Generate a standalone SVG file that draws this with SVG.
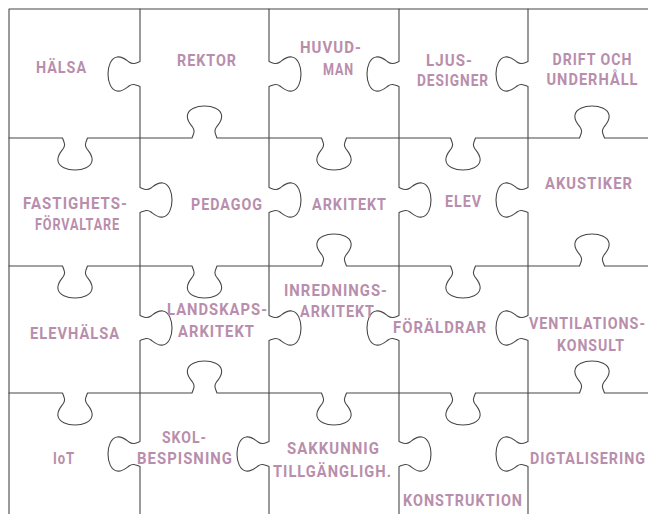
<svg xmlns="http://www.w3.org/2000/svg" width="648" height="514" viewBox="0 0 648 514">
<style>
.cut{fill:none;stroke:#474747;stroke-width:1.1;stroke-linejoin:round;stroke-linecap:round}
.lbl{font-family:Roboto,"DejaVu Sans",sans-serif;font-weight:700;font-size:17.2px;fill:#b88eac;text-anchor:middle;letter-spacing:1.2px}
</style>
<rect x="0" y="0" width="648" height="514" fill="#ffffff"/>
<g id="connectors">
<path class="cut" d="M9,520 V9 H660"/>
<path class="cut" d="M9,138 H62.5 c1.5,4 3.5,7 0.5,11 c-3,4 -6,7 -5,12 c1,6 9,9 17,9 c8,0 16,-3 17,-9 c1,-5 -2,-8 -5,-12 c-3,-4 -1,-7 0.5,-11 H192 c1.5,-4 3.5,-7 0.5,-11 c-3,-4 -6,-7 -5,-12 c1,-6 9,-9 17,-9 c8,0 16,3 17,9 c1,5 -2,8 -5,12 c-3,4 -1,7 0.5,11 H321.5 c1.5,4 3.5,7 0.5,11 c-3,4 -6,7 -5,12 c1,6 9,9 17,9 c8,0 16,-3 17,-9 c1,-5 -2,-8 -5,-12 c-3,-4 -1,-7 0.5,-11 H450.5 c1.5,4 3.5,7 0.5,11 c-3,4 -6,7 -5,12 c1,6 9,9 17,9 c8,0 16,-3 17,-9 c1,-5 -2,-8 -5,-12 c-3,-4 -1,-7 0.5,-11 H579.5 c1.5,-4 3.5,-7 0.5,-11 c-3,-4 -6,-7 -5,-12 c1,-6 9,-9 17,-9 c8,0 16,3 17,9 c1,5 -2,8 -5,12 c-3,4 -1,7 0.5,11 H660"/>
<path class="cut" d="M9,266 H62.5 c1.5,4 3.5,7 0.5,11 c-3,4 -6,7 -5,12 c1,6 9,9 17,9 c8,0 16,-3 17,-9 c1,-5 -2,-8 -5,-12 c-3,-4 -1,-7 0.5,-11 H192 c1.5,4 3.5,7 0.5,11 c-3,4 -6,7 -5,12 c1,6 9,9 17,9 c8,0 16,-3 17,-9 c1,-5 -2,-8 -5,-12 c-3,-4 -1,-7 0.5,-11 H321.5 c1.5,-4 3.5,-7 0.5,-11 c-3,-4 -6,-7 -5,-12 c1,-6 9,-9 17,-9 c8,0 16,3 17,9 c1,5 -2,8 -5,12 c-3,4 -1,7 0.5,11 H450.5 c1.5,4 3.5,7 0.5,11 c-3,4 -6,7 -5,12 c1,6 9,9 17,9 c8,0 16,-3 17,-9 c1,-5 -2,-8 -5,-12 c-3,-4 -1,-7 0.5,-11 H579.5 c1.5,-4 3.5,-7 0.5,-11 c-3,-4 -6,-7 -5,-12 c1,-6 9,-9 17,-9 c8,0 16,3 17,9 c1,5 -2,8 -5,12 c-3,4 -1,7 0.5,11 H660"/>
<path class="cut" d="M9,393 H62.5 c1.5,4 3.5,7 0.5,11 c-3,4 -6,7 -5,12 c1,6 9,9 17,9 c8,0 16,-3 17,-9 c1,-5 -2,-8 -5,-12 c-3,-4 -1,-7 0.5,-11 H192 c1.5,-4 3.5,-7 0.5,-11 c-3,-4 -6,-7 -5,-12 c1,-6 9,-9 17,-9 c8,0 16,3 17,9 c1,5 -2,8 -5,12 c-3,4 -1,7 0.5,11 H321.5 c1.5,4 3.5,7 0.5,11 c-3,4 -6,7 -5,12 c1,6 9,9 17,9 c8,0 16,-3 17,-9 c1,-5 -2,-8 -5,-12 c-3,-4 -1,-7 0.5,-11 H450.5 c1.5,4 3.5,7 0.5,11 c-3,4 -6,7 -5,12 c1,6 9,9 17,9 c8,0 16,-3 17,-9 c1,-5 -2,-8 -5,-12 c-3,-4 -1,-7 0.5,-11 H579.5 c1.5,-4 3.5,-7 0.5,-11 c-3,-4 -6,-7 -5,-12 c1,-6 9,-9 17,-9 c8,0 16,3 17,9 c1,5 -2,8 -5,12 c-3,4 -1,7 0.5,11 H660"/>
<path class="cut" d="M140,9 V61.5 c-4,1.5 -7,3.5 -11,0.5 c-4,-3 -7,-6 -12,-5 c-6,1 -9,9 -9,17 c0,8 3,16 9,17 c5,1 8,-2 12,-5 c4,-3 7,-1 11,0.5 V187.5 c4,1.5 7,3.5 11,0.5 c4,-3 7,-6 12,-5 c6,1 9,9 9,17 c0,8 -3,16 -9,17 c-5,1 -8,-2 -12,-5 c-4,-3 -7,-1 -11,0.5 V315.5 c4,1.5 7,3.5 11,0.5 c4,-3 7,-6 12,-5 c6,1 9,9 9,17 c0,8 -3,16 -9,17 c-5,1 -8,-2 -12,-5 c-4,-3 -7,-1 -11,0.5 V441.5 c-4,1.5 -7,3.5 -11,0.5 c-4,-3 -7,-6 -12,-5 c-6,1 -9,9 -9,17 c0,8 3,16 9,17 c5,1 8,-2 12,-5 c4,-3 7,-1 11,0.5 V520"/>
<path class="cut" d="M269,9 V61.5 c4,1.5 7,3.5 11,0.5 c4,-3 7,-6 12,-5 c6,1 9,9 9,17 c0,8 -3,16 -9,17 c-5,1 -8,-2 -12,-5 c-4,-3 -7,-1 -11,0.5 V187.5 c4,1.5 7,3.5 11,0.5 c4,-3 7,-6 12,-5 c6,1 9,9 9,17 c0,8 -3,16 -9,17 c-5,1 -8,-2 -12,-5 c-4,-3 -7,-1 -11,0.5 V315.5 c4,1.5 7,3.5 11,0.5 c4,-3 7,-6 12,-5 c6,1 9,9 9,17 c0,8 -3,16 -9,17 c-5,1 -8,-2 -12,-5 c-4,-3 -7,-1 -11,0.5 V441.5 c-4,1.5 -7,3.5 -11,0.5 c-4,-3 -7,-6 -12,-5 c-6,1 -9,9 -9,17 c0,8 3,16 9,17 c5,1 8,-2 12,-5 c4,-3 7,-1 11,0.5 V520"/>
<path class="cut" d="M399,9 V61.5 c-4,1.5 -7,3.5 -11,0.5 c-4,-3 -7,-6 -12,-5 c-6,1 -9,9 -9,17 c0,8 3,16 9,17 c5,1 8,-2 12,-5 c4,-3 7,-1 11,0.5 V187.5 c4,1.5 7,3.5 11,0.5 c4,-3 7,-6 12,-5 c6,1 9,9 9,17 c0,8 -3,16 -9,17 c-5,1 -8,-2 -12,-5 c-4,-3 -7,-1 -11,0.5 V315.5 c-4,1.5 -7,3.5 -11,0.5 c-4,-3 -7,-6 -12,-5 c-6,1 -9,9 -9,17 c0,8 3,16 9,17 c5,1 8,-2 12,-5 c4,-3 7,-1 11,0.5 V441.5 c4,1.5 7,3.5 11,0.5 c4,-3 7,-6 12,-5 c6,1 9,9 9,17 c0,8 -3,16 -9,17 c-5,1 -8,-2 -12,-5 c-4,-3 -7,-1 -11,0.5 V520"/>
<path class="cut" d="M528,9 V61.5 c-4,1.5 -7,3.5 -11,0.5 c-4,-3 -7,-6 -12,-5 c-6,1 -9,9 -9,17 c0,8 3,16 9,17 c5,1 8,-2 12,-5 c4,-3 7,-1 11,0.5 V187.5 c-4,1.5 -7,3.5 -11,0.5 c-4,-3 -7,-6 -12,-5 c-6,1 -9,9 -9,17 c0,8 3,16 9,17 c5,1 8,-2 12,-5 c4,-3 7,-1 11,0.5 V315.5 c-4,1.5 -7,3.5 -11,0.5 c-4,-3 -7,-6 -12,-5 c-6,1 -9,9 -9,17 c0,8 3,16 9,17 c5,1 8,-2 12,-5 c4,-3 7,-1 11,0.5 V441.5 c-4,1.5 -7,3.5 -11,0.5 c-4,-3 -7,-6 -12,-5 c-6,1 -9,9 -9,17 c0,8 3,16 9,17 c5,1 8,-2 12,-5 c4,-3 7,-1 11,0.5 V520"/>
</g>
<g id="halsa"><text class="lbl" x="61.5" y="73" textLength="51" lengthAdjust="spacingAndGlyphs">HÄLSA</text></g>
<g id="rektor"><text class="lbl" x="207" y="66" textLength="60" lengthAdjust="spacingAndGlyphs">REKTOR</text></g>
<g id="huvudman"><text class="lbl" x="331" y="53" textLength="62" lengthAdjust="spacingAndGlyphs">HUVUD-</text><text class="lbl" x="338.5" y="75" textLength="31" lengthAdjust="spacingAndGlyphs">MAN</text></g>
<g id="ljusdesigner"><text class="lbl" x="449.5" y="66" textLength="47" lengthAdjust="spacingAndGlyphs">LJUS-</text><text class="lbl" x="453" y="86" textLength="72" lengthAdjust="spacingAndGlyphs">DESIGNER</text></g>
<g id="drift"><text class="lbl" x="592.5" y="65" textLength="80" lengthAdjust="spacingAndGlyphs">DRIFT OCH</text><text class="lbl" x="592.5" y="85" textLength="92" lengthAdjust="spacingAndGlyphs">UNDERHÅLL</text></g>
<g id="fastighet"><text class="lbl" x="75.5" y="209" textLength="105" lengthAdjust="spacingAndGlyphs">FASTIGHETS-</text><text class="lbl" x="77.5" y="230" textLength="85" lengthAdjust="spacingAndGlyphs">FÖRVALTARE</text></g>
<g id="pedagog"><text class="lbl" x="227" y="210" textLength="72" lengthAdjust="spacingAndGlyphs">PEDAGOG</text></g>
<g id="arkitekt"><text class="lbl" x="349.5" y="210" textLength="75" lengthAdjust="spacingAndGlyphs">ARKITEKT</text></g>
<g id="elev"><text class="lbl" x="463.5" y="207" textLength="37" lengthAdjust="spacingAndGlyphs">ELEV</text></g>
<g id="akustiker"><text class="lbl" x="589" y="189" textLength="88" lengthAdjust="spacingAndGlyphs">AKUSTIKER</text></g>
<g id="elevhalsa"><text class="lbl" x="75" y="339" textLength="90" lengthAdjust="spacingAndGlyphs">ELEVHÄLSA</text></g>
<g id="landskaps"><text class="lbl" x="217.5" y="315" textLength="101" lengthAdjust="spacingAndGlyphs">LANDSKAPS-</text><text class="lbl" x="216.5" y="337" textLength="77" lengthAdjust="spacingAndGlyphs">ARKITEKT</text></g>
<g id="inrednings"><text class="lbl" x="336" y="296" textLength="104" lengthAdjust="spacingAndGlyphs">INREDNINGS-</text><text class="lbl" x="337.5" y="317" textLength="75" lengthAdjust="spacingAndGlyphs">ARKITEKT</text></g>
<g id="foraldrar"><text class="lbl" x="440" y="333" textLength="94" lengthAdjust="spacingAndGlyphs">FÖRÄLDRAR</text></g>
<g id="ventilation"><text class="lbl" x="587.5" y="329" textLength="117" lengthAdjust="spacingAndGlyphs">VENTILATIONS-</text><text class="lbl" x="591" y="351" textLength="68" lengthAdjust="spacingAndGlyphs">KONSULT</text></g>
<g id="iot"><text class="lbl" x="64" y="464" textLength="22" lengthAdjust="spacingAndGlyphs">IoT</text></g>
<g id="skol"><text class="lbl" x="184.5" y="443" textLength="45" lengthAdjust="spacingAndGlyphs">SKOL-</text><text class="lbl" x="185" y="464" textLength="96" lengthAdjust="spacingAndGlyphs">BESPISNING</text></g>
<g id="sakkunnig"><text class="lbl" x="333.5" y="454" textLength="93" lengthAdjust="spacingAndGlyphs">SAKKUNNIG</text><text class="lbl" x="332.5" y="477" textLength="119" lengthAdjust="spacingAndGlyphs">TILLGÄNGLIGH.</text></g>
<g id="konstruktion"><text class="lbl" x="463" y="506" textLength="120" lengthAdjust="spacingAndGlyphs">KONSTRUKTION</text></g>
<g id="digitalisering"><text class="lbl" x="588" y="464" textLength="116" lengthAdjust="spacingAndGlyphs">DIGTALISERING</text></g>
</svg>
